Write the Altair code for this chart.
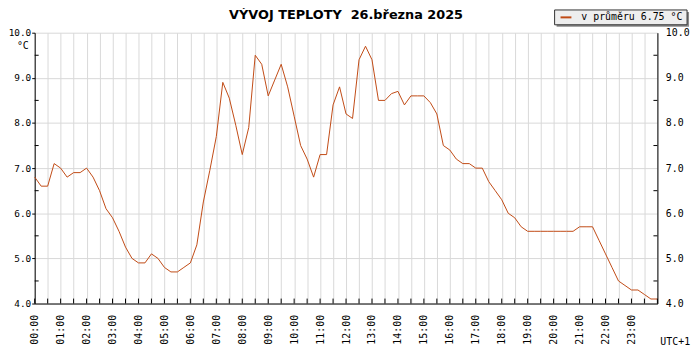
import altair as alt
import pandas as pd

# ---- data (15-minute readings, °C) ----
temps = [
    6.8, 6.6, 6.6, 7.1,     # 00
    7.0, 6.8, 6.9, 6.9,     # 01
    7.0, 6.8, 6.5, 6.1,     # 02
    5.9, 5.6, 5.25, 5.0,    # 03
    4.9, 4.9, 5.1, 5.0,     # 04
    4.8, 4.7, 4.7, 4.8,     # 05
    4.9, 5.3, 6.25, 6.95,   # 06
    7.7, 8.9, 8.55, 7.95,   # 07
    7.3, 7.9, 9.5, 9.3,     # 08
    8.6, 8.95, 9.3, 8.8,    # 09
    8.15, 7.5, 7.2, 6.8,    # 10
    7.3, 7.3, 8.4, 8.8,     # 11
    8.2, 8.1, 9.4, 9.7,     # 12
    9.4, 8.5, 8.5, 8.65,    # 13
    8.7, 8.4, 8.6, 8.6,     # 14
    8.6, 8.45, 8.2, 7.5,    # 15
    7.4, 7.2, 7.1, 7.1,     # 16
    7.0, 7.0, 6.7, 6.5,     # 17
    6.3, 6.0, 5.9, 5.7,     # 18
    5.6, 5.6, 5.6, 5.6,     # 19
    5.6, 5.6, 5.6, 5.6,     # 20
    5.7, 5.7, 5.7, 5.4,     # 21
    5.1, 4.8, 4.5, 4.4,     # 22
    4.3, 4.3, 4.2, 4.1,     # 23
    4.1,                    # 24
]
times = [i * 0.25 for i in range(len(temps))]  # hours after midnight

y_major = [4, 5, 6, 7, 8, 9, 10]
y_minor = [4.5, 5.5, 6.5, 7.5, 8.5, 9.5]
x_grid = [i * 0.5 for i in range(49)]

title_text = "VÝVOJ TEPLOTY\u00a0\u00a026.března 2025"
legend_text = "v průměru 6.75 °C"
unit_text = "°C"
tz_text = "UTC+1"

# ---- style ----
LINE = "#c04a14"
GRID = "#d9d9d9"
MONO = "DejaVu Sans Mono"
W, H = 630, 274

df = pd.DataFrame({"t": times, "temp": temps})
xscale = alt.Scale(domain=[0, 24], nice=False, zero=False)
yscale = alt.Scale(domain=[4, 10], nice=False, zero=False)

x_axis = alt.Axis(
    values=x_grid,
    labelExpr="(datum.value % 1 == 0 && datum.value < 24) ? ((datum.value < 10 ? '0' : '') + datum.value + ':00') : ''",
    labelAngle=270, labelAlign="right", labelBaseline="middle",
    labelPadding=11, labelFont=MONO, labelFontSize=10, labelColor="black",
    labelOverlap=False, labelFlush=False,
    ticks=False, tickSize=0,
    grid=True, gridColor=GRID, gridWidth=1,
    domainColor="black", domainWidth=1, title=None,
)
y_left_axis = alt.Axis(
    orient="left", values=y_major, format=".1f",
    tickSize=3, tickColor="black", labelPadding=1,
    labelFont=MONO, labelFontSize=9.5, labelColor="black",
    grid=True, gridColor=GRID, gridWidth=1,
    domainColor="black", title=None,
)
y_right_axis = alt.Axis(
    orient="right", values=y_major, format=".1f",
    ticks=False, tickSize=0, labelPadding=8,
    labelFont=MONO, labelFontSize=10, labelColor="black",
    grid=False, domainColor="black", title=None,
)


def X(field):
    return alt.X(field, type="quantitative", scale=xscale, axis=x_axis)


def Y(field):
    return alt.Y(field, type="quantitative", scale=yscale, axis=y_left_axis)


line = alt.Chart(df).mark_line(color=LINE, strokeWidth=1).encode(x=X("t"), y=Y("temp"))

ydf = pd.DataFrame({"v": y_minor})
left_minor = alt.Chart(ydf).mark_rule(color="black").encode(
    y=Y("v"), x=alt.value(0), x2=alt.value(4)
)
right_minor = alt.Chart(ydf).mark_rule(color="black").encode(
    y=Y("v"), x=alt.value(W - 4), x2=alt.value(W)
)
xdf = pd.DataFrame({"h": x_grid})
bottom_ticks = alt.Chart(xdf).mark_rule(color="black").encode(
    x=X("h"), y=alt.value(H - 5), y2=alt.value(H)
)

one = pd.DataFrame({"k": [0]})
title = alt.Chart(pd.DataFrame({"s": [title_text]})).mark_text(
    font="DejaVu Sans", fontWeight="bold", fontSize=13, align="center",
    baseline="alphabetic", color="black",
).encode(text="s:N", x=alt.value(W / 2), y=alt.value(-14))

shadow = alt.Chart(one).mark_rect(color="#8a8a8a").encode(
    x=alt.value(528), x2=alt.value(662), y=alt.value(-21), y2=alt.value(-6)
)
box = alt.Chart(one).mark_rect(fill="#eeeeee", stroke="#333333", strokeWidth=1).encode(
    x=alt.value(526), x2=alt.value(660), y=alt.value(-23), y2=alt.value(-8)
)
swatch = alt.Chart(one).mark_rule(color=LINE, strokeWidth=2).encode(
    x=alt.value(532), x2=alt.value(543), y=alt.value(-15.5)
)
legend_label = alt.Chart(pd.DataFrame({"s": [legend_text]})).mark_text(
    font=MONO, fontSize=10, align="left", baseline="middle", color="black"
).encode(text="s:N", x=alt.value(553), y=alt.value(-15.5))

unit = alt.Chart(pd.DataFrame({"s": [unit_text]})).mark_text(
    font=MONO, fontSize=10, align="left", baseline="middle", color="black"
).encode(text="s:N", x=alt.value(-18), y=alt.value(13))
tz = alt.Chart(pd.DataFrame({"s": [tz_text]})).mark_text(
    font=MONO, fontSize=10, align="left", baseline="middle", color="black"
).encode(text="s:N", x=alt.value(633), y=alt.value(312.5))

inner = alt.layer(
    line, left_minor, right_minor, bottom_ticks,
    title, shadow, box, swatch, legend_label, unit, tz,
)

right = alt.Chart(df).mark_line(opacity=0).encode(
    x=X("t"),
    y=alt.Y("temp:Q", scale=yscale, axis=y_right_axis),
)

chart = (
    alt.layer(inner, right)
    .resolve_scale(y="independent")
    .properties(
        width=W, height=H,
        padding={"left": 27, "top": 23, "right": 35, "bottom": 42},
        autosize=alt.AutoSizeParams(type="none"),
    )
    .configure_view(stroke=None)
)

chart.save("out.html", embed_options={"renderer": "svg", "actions": False})
